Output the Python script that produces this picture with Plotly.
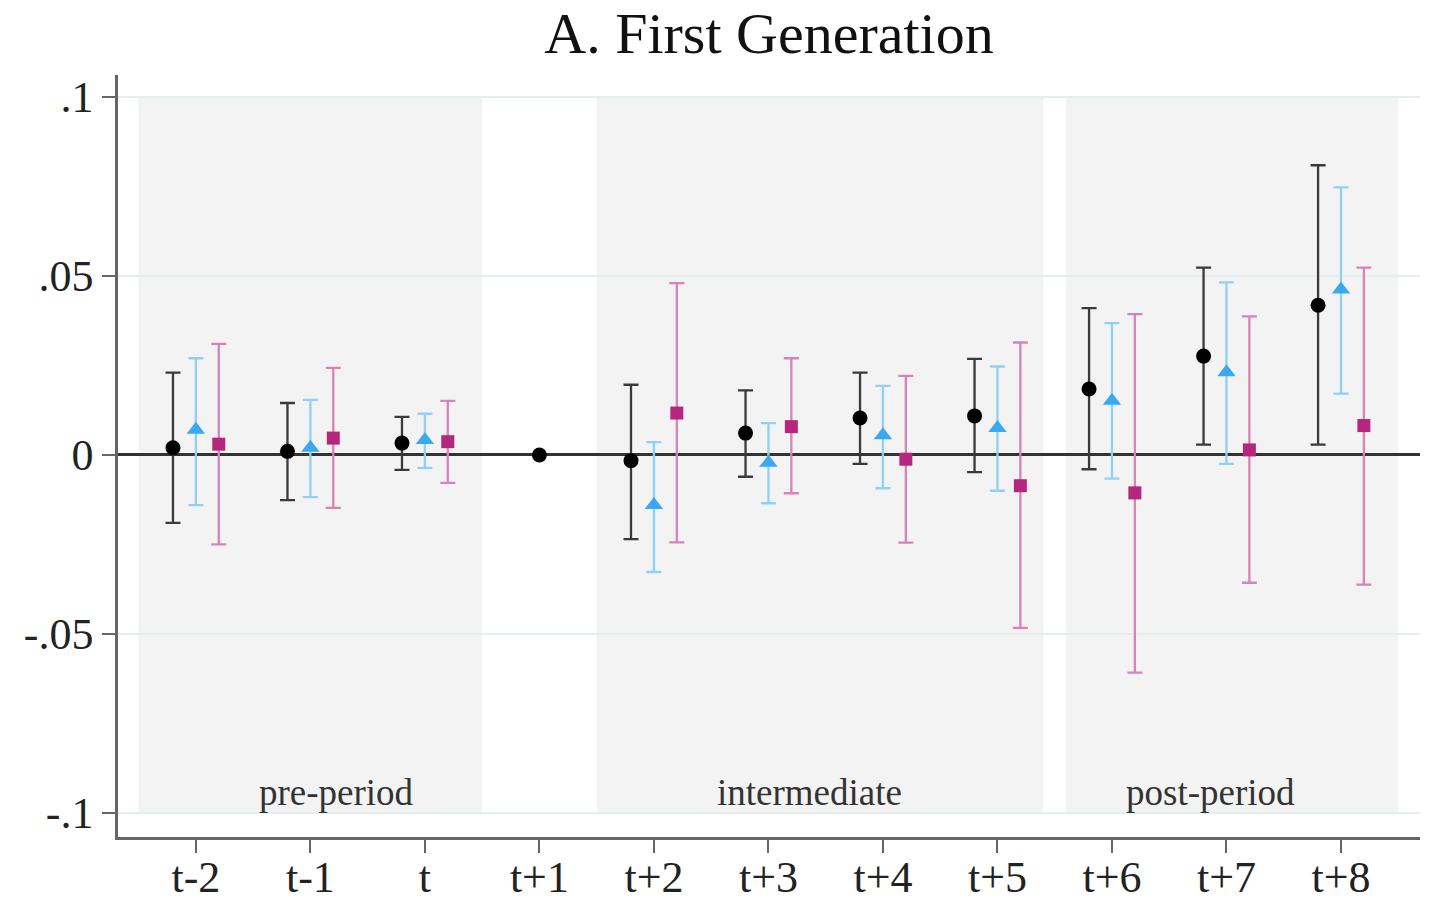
import plotly.graph_objects as go

categories = ["t-2", "t-1", "t", "t+1", "t+2", "t+3", "t+4", "t+5", "t+6", "t+7", "t+8"]

# Series 1 (black circles)
s1_est = [0.002, 0.001, 0.0033, 0.0, -0.0016, 0.0061, 0.0103, 0.0109, 0.0184, 0.0276, 0.0418]
s1_lo = [-0.019, -0.0126, -0.0042, None, -0.0235, -0.0061, -0.0025, -0.0048, -0.004, 0.0029, 0.0029]
s1_hi = [0.023, 0.0145, 0.0106, None, 0.0196, 0.018, 0.023, 0.0268, 0.041, 0.0523, 0.0809]

# Series 2 (blue triangles)
s2_est = [0.007, 0.002, 0.0042, None, -0.014, -0.0022, 0.0055, 0.0075, 0.0151, 0.0231, 0.0462]
s2_lo = [-0.014, -0.0118, -0.0036, None, -0.0327, -0.0135, -0.0093, -0.0100, -0.0066, -0.0025, 0.0171]
s2_hi = [0.027, 0.0154, 0.0115, None, 0.0036, 0.0089, 0.0193, 0.0247, 0.0368, 0.0482, 0.0747]

# Series 3 (magenta squares)
s3_est = [0.003, 0.0047, 0.0037, None, 0.0117, 0.0079, -0.0012, -0.0086, -0.0106, 0.0014, 0.0082]
s3_lo = [-0.025, -0.0148, -0.0078, None, -0.0244, -0.0107, -0.0245, -0.0483, -0.0608, -0.0357, -0.0362]
s3_hi = [0.031, 0.0243, 0.0151, None, 0.048, 0.027, 0.0221, 0.0314, 0.0393, 0.0387, 0.0523]

periods = ["pre-period", "intermediate", "post-period"]
period_spans = [(-0.5, 2.5), (3.5, 7.4), (7.6, 10.5)]
period_label_x = [1.23, 5.36, 8.86]

y_tickvals = [-0.1, -0.05, 0, 0.05, 0.1]
y_ticktext = ["-.1", "-.05", "0", ".05", ".1"]

FONT = "Liberation Serif"


def errs(est, lo, hi):
    up, dn = [], []
    for e, l, h in zip(est, lo, hi):
        if e is None or l is None or h is None:
            up.append(None)
            dn.append(None)
        else:
            up.append(h - e)
            dn.append(e - l)
    return up, dn


idx = list(range(len(categories)))
x1 = [i if categories[i] == "t+1" else i - 0.2 for i in idx]
x2 = idx
x3 = [i + 0.2 for i in idx]

fig = go.Figure()

series = [
    (x1, s1_est, s1_lo, s1_hi, "circle", 15, "#000000", "#3a3a3a"),
    (x2, s2_est, s2_lo, s2_hi, "triangle-up", 16, "#3aa9ef", "#92cff5"),
    (x3, s3_est, s3_lo, s3_hi, "square", 13, "#b5267d", "#d684b5"),
]

for xs, est, lo, hi, sym, size, mcol, ecol in series:
    up, dn = errs(est, lo, hi)
    fig.add_trace(go.Scatter(
        x=xs, y=est, mode="markers",
        marker=dict(symbol=sym, size=size, color=mcol, line=dict(width=0)),
        error_y=dict(type="data", symmetric=False, array=up, arrayminus=dn,
                     color=ecol, thickness=2.3, width=7.5),
        showlegend=False,
    ))

for (x0, x1_), name, lx in zip(period_spans, periods, period_label_x):
    fig.add_shape(type="rect", xref="x", yref="y", x0=x0, x1=x1_, y0=-0.1, y1=0.1,
                  fillcolor="#f3f3f3", line=dict(width=0), layer="below")
    fig.add_annotation(x=lx, y=-0.0944, xref="x", yref="y", text=name,
                       showarrow=False, font=dict(family=FONT, size=37, color="#333333"))

fig.update_layout(
    width=1432, height=904,
    margin=dict(l=118, r=12, t=75, b=67, autoexpand=False),
    paper_bgcolor="white", plot_bgcolor="white",
    title=dict(text="A. First Generation", x=769 / 1432, xanchor="center",
               y=1 - 33 / 904, yanchor="middle",
               font=dict(family=FONT, size=58, color="#111111")),
    font=dict(family=FONT, color="#222222"),
)

fig.update_xaxes(
    range=[-0.68, 10.69], tickmode="array", tickvals=idx, ticktext=categories,
    automargin=False,
    showgrid=False, zeroline=False, showline=True, linecolor="#666666", linewidth=2.5,
    ticks="outside", ticklen=13, tickwidth=2, tickcolor="#666666",
    ticklabelstandoff=-14,
    tickfont=dict(family=FONT, size=44, color="#222222"),
)
fig.update_yaxes(
    range=[-0.1067, 0.1061], tickmode="array", tickvals=y_tickvals, ticktext=y_ticktext,
    automargin=False,
    showgrid=True, gridcolor="#e5eded", gridwidth=2,
    zeroline=True, zerolinecolor="#333333", zerolinewidth=2.5,
    showline=True, linecolor="#666666", linewidth=2.5,
    ticks="outside", ticklen=13, tickwidth=2, tickcolor="#666666",
    ticklabelstandoff=0,
    tickfont=dict(family=FONT, size=44, color="#222222"),
)

fig.write_html(
    "out.html",
    config={"displayModeBar": False},
    post_script="document.body.style.margin='0';document.body.style.overflow='hidden';"
                "document.documentElement.style.overflow='hidden';",
)
